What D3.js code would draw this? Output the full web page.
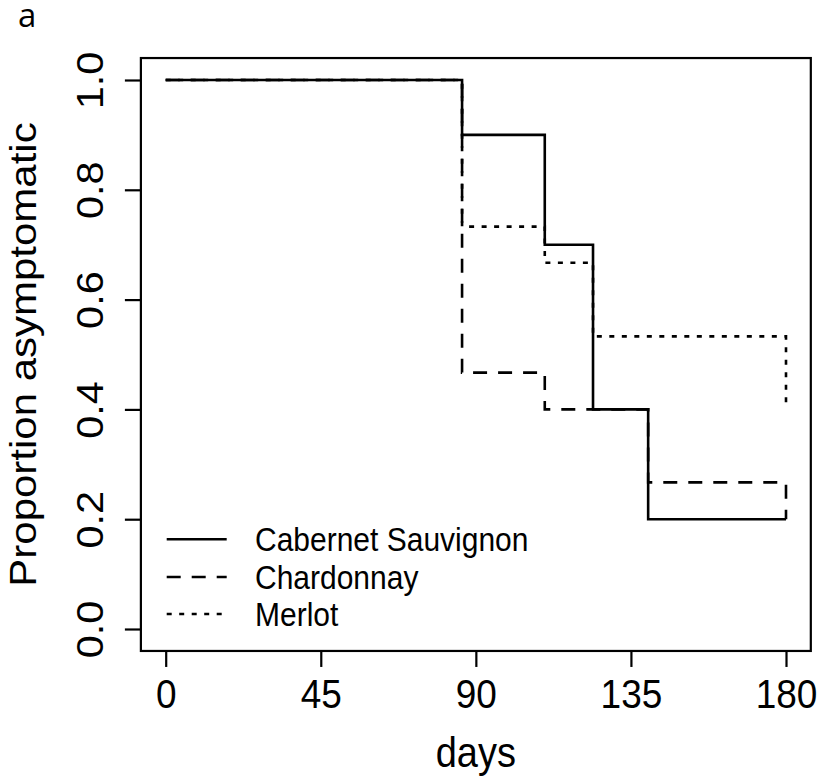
<!DOCTYPE html>
<html>
<head>
<meta charset="utf-8">
<script src="https://cdn.jsdelivr.net/npm/d3@7"></script>
<style>
  html, body { margin: 0; padding: 0; background: #fff; }
  svg { display: block; }
  text { font-family: "Liberation Sans", Arial, sans-serif; fill: #000; }
</style>
</head>
<body>
<svg id="chart" width="822" height="780"></svg>
<script>
// ---- data ----
const seriesNames = ["Cabernet Sauvignon", "Chardonnay", "Merlot"];
const cabernetDays = [0, 86, 110, 124, 140, 180];
const cabernetProp = [1.0, 0.9, 0.7, 0.4, 0.2, 0.2];
const chardonnayDays = [0, 86, 110, 140, 180];
const chardonnayProp = [1.0, 0.467, 0.4, 0.267, 0.2];
const merlotDays = [0, 86, 110, 124, 180];
const merlotProp = [1.0, 0.733, 0.667, 0.533, 0.4];
const xTicks = [0, 45, 90, 135, 180];
const yTicks = [0.0, 0.2, 0.4, 0.6, 0.8, 1.0];
const xLabel = "days";
const yLabel = "Proportion asymptomatic";
const panelLabel = "a";

// ---- styles ----
const dashes = ["none", "14,11", "5,7.5"];
const stretch = 1.12;
const fs = 37;

const svg = d3.select("#chart");

const x = d3.scaleLinear().domain([0, 180]).range([165.7, 786]);
const y = d3.scaleLinear().domain([0, 1]).range([629, 80]);

const x0 = x(-7.2), x1 = x(187.2), y0 = y(-0.04), y1 = y(1.04);

// plot box
svg.append("rect")
  .attr("x", x0).attr("y", y1)
  .attr("width", x1 - x0).attr("height", y0 - y1)
  .attr("fill", "none").attr("stroke", "#000").attr("stroke-width", 2.2);

// x axis
const gx = svg.append("g").attr("transform", `translate(0,${y0})`)
  .call(d3.axisBottom(x).tickValues(xTicks).tickSize(16).tickFormat(d3.format("d")));
gx.select(".domain").remove();
gx.selectAll(".tick line").attr("stroke", "#000").attr("stroke-width", 2.2);
gx.selectAll(".tick text")
  .attr("y", null).attr("dy", null)
  .attr("transform", `translate(0,57) scale(1,${stretch})`)
  .style("font-size", fs + "px")
  .style("font-family", "'Liberation Sans', Arial, sans-serif")
  .attr("fill", "#000");

// y axis
const gy = svg.append("g").attr("transform", `translate(${x0},0)`)
  .call(d3.axisLeft(y).tickValues(yTicks).tickSize(16).tickFormat(d3.format(".1f")));
gy.select(".domain").remove();
gy.selectAll(".tick line").attr("stroke", "#000").attr("stroke-width", 2.2);
gy.selectAll(".tick text")
  .attr("x", null).attr("dy", null)
  .attr("text-anchor", "middle")
  .attr("transform", `translate(-37.5,0) scale(1,${stretch}) rotate(-90)`)
  .style("font-size", fs + "px")
  .style("font-family", "'Liberation Sans', Arial, sans-serif")
  .attr("fill", "#000");

// axis titles
svg.append("text")
  .attr("transform", `translate(${(x0 + x1) / 2},767) scale(1,${stretch})`)
  .attr("text-anchor", "middle")
  .style("font-size", "38px")
  .text(xLabel);

svg.append("text")
  .attr("transform", `translate(36,${(y0 + y1) / 2}) scale(1,${stretch}) rotate(-90)`)
  .attr("text-anchor", "middle")
  .style("font-size", "37.5px")
  .text(yLabel);

// panel label
svg.append("text")
  .attr("x", 18).attr("y", 27)
  .style("font-family", "'Open Sans', sans-serif")
  .style("font-size", "33px")
  .text(panelLabel);

// curves
const series = [
  { name: seriesNames[0], days: cabernetDays, prop: cabernetProp },
  { name: seriesNames[1], days: chardonnayDays, prop: chardonnayProp },
  { name: seriesNames[2], days: merlotDays, prop: merlotProp }
];

const line = d3.line()
  .x(d => x(d[0]))
  .y(d => y(d[1]))
  .curve(d3.curveStepAfter);

series.forEach((s, i) => {
  const pts = s.days.map((d, j) => [d, s.prop[j]]);
  svg.append("path")
    .attr("d", line(pts))
    .attr("fill", "none")
    .attr("stroke", "#000")
    .attr("stroke-width", 2.6)
    .attr("stroke-dasharray", dashes[i]);
});

// legend
const legY = [539.3, 577, 614];
series.forEach((s, i) => {
  svg.append("line")
    .attr("x1", 166.7).attr("x2", 226.7)
    .attr("y1", legY[i]).attr("y2", legY[i])
    .attr("stroke", "#000").attr("stroke-width", 2.6)
    .attr("stroke-dasharray", dashes[i]);
  svg.append("text")
    .attr("transform", `translate(255,${legY[i] + 12}) scale(1,${stretch})`)
    .style("font-size", "30px")
    .text(s.name);
});
</script>
</body>
</html>
